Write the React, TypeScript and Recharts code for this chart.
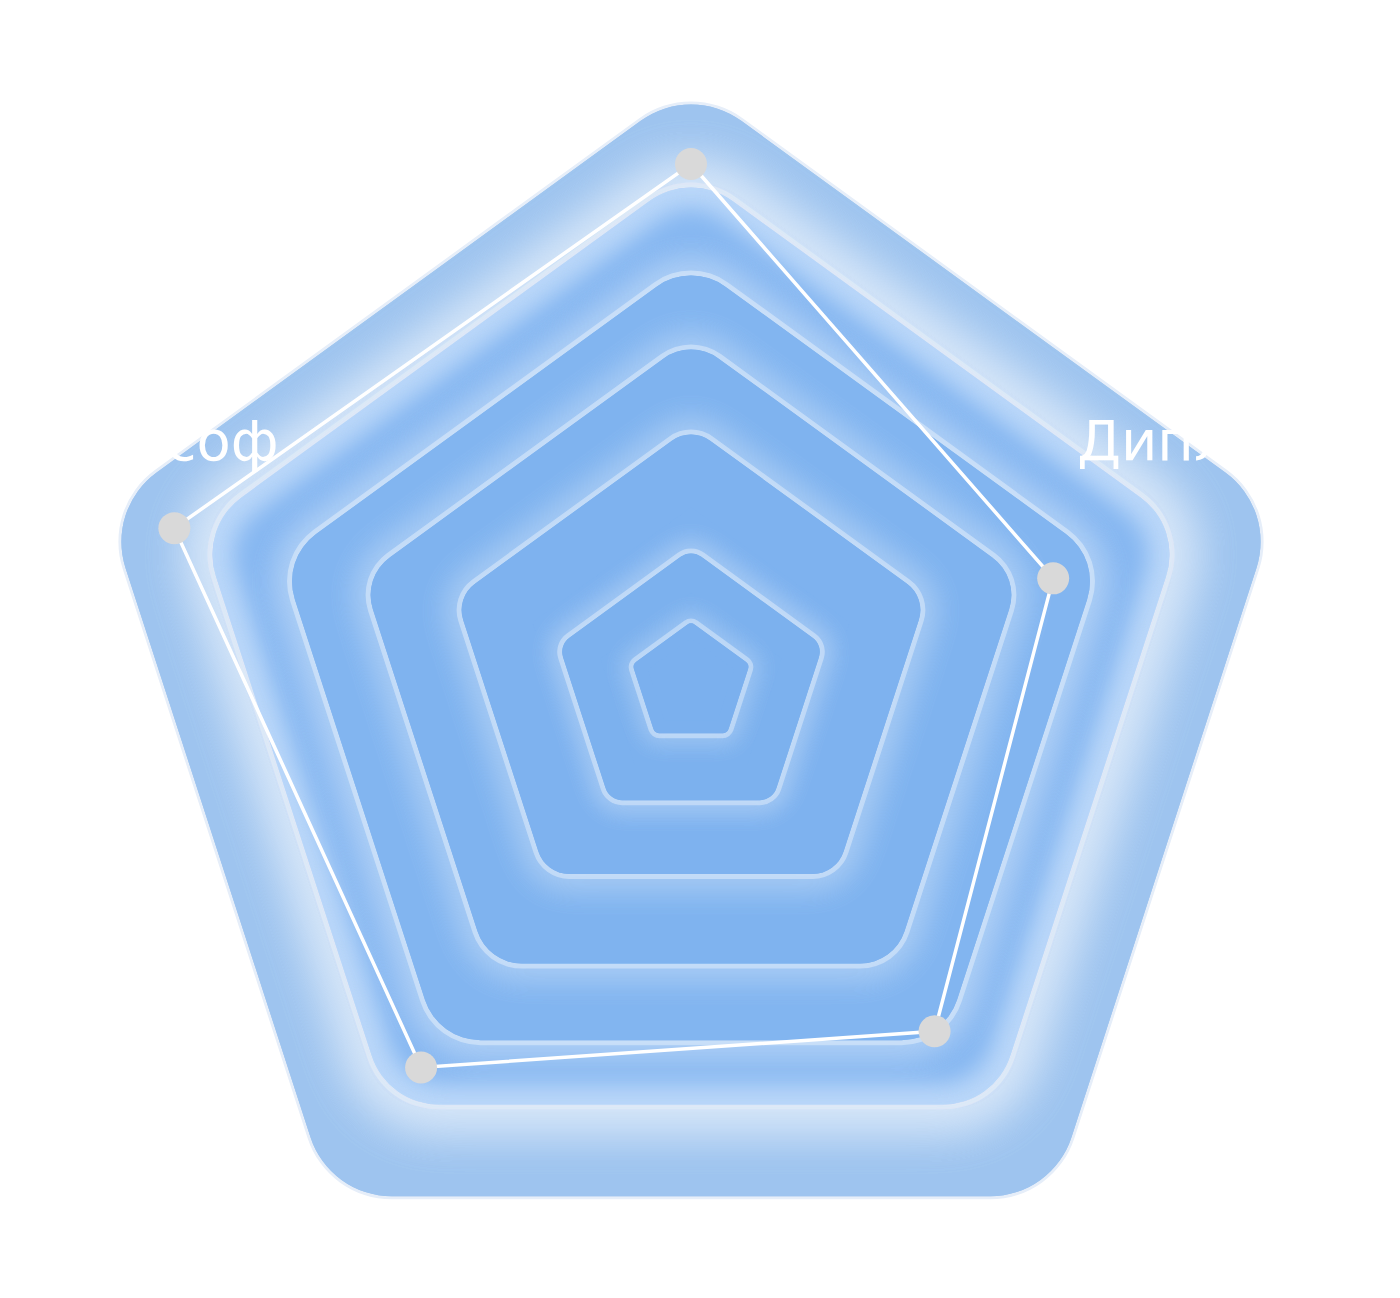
import React from "react";
import { RadarChart, Radar, PolarGrid, PolarAngleAxis, PolarRadiusAxis } from "recharts";

const categories = ["Лидер", "Дипломат", "Стратег", "Творец", "Философ"];
const scores = [95, 68, 74, 82, 97];

const chartData = categories.map((name, i) => ({ name, score: scores[i] }));

const CX = 683;
const CY = 688;

// decorative rounded pentagons, outer to inner
const RINGS = [
  { r: 509, round: 87, shift: 3, light: "#9ec4ef", dark: "", inset: 0, blur: 0, line: "#e6eef9", lineWidth: 3, halo: 0, haloBlur: 22, haloWidth: 0 },
  { r: 429, round: 73, shift: -9, light: "#bad7f9", dark: "#86b7f1", inset: 30, blur: 14, line: "#dfe9f7", lineWidth: 5, halo: 0.36, haloBlur: 22, haloWidth: 50 },
  { r: 358, round: 61, shift: -4, light: "#82b5f0", dark: "", inset: 0, blur: 0, line: "rgba(255,255,255,0.36)", lineWidth: 5, halo: 0.18, haloBlur: 14, haloWidth: 30 },
  { r: 288, round: 49, shift: -12, light: "#7fb3ef", dark: "", inset: 0, blur: 0, line: "rgba(255,255,255,0.36)", lineWidth: 5, halo: 0.16, haloBlur: 14, haloWidth: 30 },
  { r: 207, round: 35, shift: -22, light: "#7eb2ef", dark: "", inset: 0, blur: 0, line: "rgba(255,255,255,0.36)", lineWidth: 5, halo: 0.16, haloBlur: 14, haloWidth: 30 },
  { r: 117, round: 20, shift: -8, light: "#7cb1ee", dark: "", inset: 0, blur: 0, line: "rgba(255,255,255,0.36)", lineWidth: 5, halo: 0.14, haloBlur: 10, haloWidth: 24 },
  { r: 53.5, round: 9, shift: -12.5, light: "#7bb0ee", dark: "", inset: 0, blur: 0, line: "rgba(255,255,255,0.36)", lineWidth: 5, halo: 0.12, haloBlur: 10, haloWidth: 20 },
];

const LabelTick = (props: any) => {
  const { x, y, payload } = props;
  const ty = y < CY ? y - 60 : y + 90;
  return (
    <text x={x - 6} y={ty} textAnchor="middle" fill="#ffffff" fontSize={56} fontFamily="DejaVu Sans">
      {payload.value}
    </text>
  );
};

const GrayDot = (props: any) => (
  <circle key={`dot-${props.index}`} cx={props.cx} cy={props.cy} r={16} fill="#d9d9d9" stroke="none" />
);

const blurIds = [10, 14, 22];

export default function App() {
  return (
    <div style={{ width: 1384, height: 1282 }}>
      <RadarChart
        width={1384}
        height={1282}
        data={chartData}
        cx={CX}
        cy={CY}
        outerRadius={560}
        margin={{ top: 0, right: 0, bottom: 0, left: 0 }}
      >
        <defs>
          {blurIds.map((s) => (
            <filter key={s} id={`blur${s}`} x="-50%" y="-50%" width="200%" height="200%">
              <feGaussianBlur stdDeviation={s} />
            </filter>
          ))}
        </defs>
        {RINGS.map((ring, i) => {
          const t = `translate(0, ${ring.shift})`;
          return [
            ring.halo > 0 && (
              <PolarGrid
                key={`halo-${i}`}
                polarRadius={[ring.r]}
                radialLines={false}
                stroke="#ffffff"
                strokeWidth={ring.round * 2 + ring.haloWidth}
                strokeLinejoin="round"
                fill="#ffffff"
                opacity={ring.halo}
                filter={`url(#blur${ring.haloBlur})`}
                transform={t}
              />
            ),
            <PolarGrid
              key={`line-${i}`}
              polarRadius={[ring.r]}
              radialLines={false}
              stroke={ring.line}
              strokeWidth={ring.round * 2 + ring.lineWidth}
              strokeLinejoin="round"
              transform={t}
            />,
            <PolarGrid
              key={`base-${i}`}
              polarRadius={[ring.r]}
              radialLines={false}
              stroke={ring.light}
              strokeWidth={ring.round * 2 - ring.lineWidth}
              strokeLinejoin="round"
              fill={ring.light}
              transform={t}
            />,
            ring.dark && (
              <PolarGrid
                key={`core-${i}`}
                polarRadius={[ring.r]}
                radialLines={false}
                stroke={ring.dark}
                strokeWidth={Math.max(ring.round * 2 - ring.inset * 2, 1)}
                strokeLinejoin="round"
                fill={ring.dark}
                filter={`url(#blur${ring.blur})`}
                transform={t}
              />
            ),
          ];
        })}
        <PolarRadiusAxis domain={[0, 100]} tick={false} axisLine={false} />
        <PolarAngleAxis dataKey="name" tick={LabelTick} tickLine={false} axisLine={false} />
        <Radar
          dataKey="score"
          stroke="#ffffff"
          strokeWidth={3.5}
          fill="none"
          fillOpacity={0}
          dot={GrayDot}
          isAnimationActive={false}
        />
      </RadarChart>
    </div>
  );
}
